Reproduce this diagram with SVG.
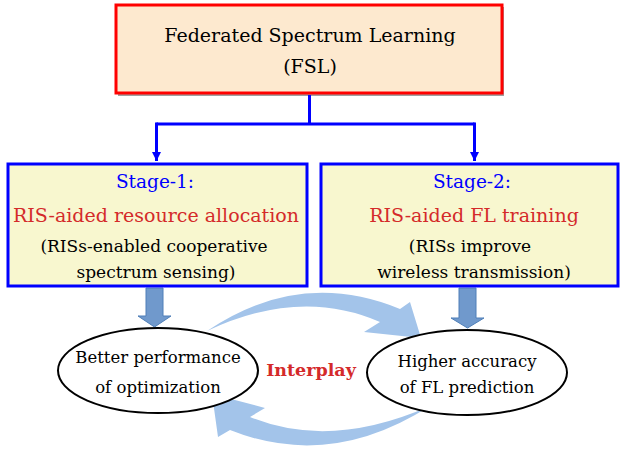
<svg xmlns="http://www.w3.org/2000/svg" width="623" height="449" viewBox="0 0 623 449">
<defs>
<style>
text{font-family:"DejaVu Serif","Liberation Serif",serif;text-anchor:middle}
.t1{font-size:19px;fill:#000}
.st{font-size:18.5px;fill:#0000ff}
.rd{font-size:19px;fill:#d42a2a}
.sm{font-size:17px;fill:#000}
.ov{font-size:16.5px;fill:#000}
.ip{font-size:17.5px;font-weight:bold;fill:#d42a2a}
.conn{stroke:#0000ff;stroke-width:3;fill:none}
.stage{fill:#f8f7cf;stroke:#0000ff;stroke-width:3}
.down{fill:#7099cc;stroke:#4f7fb8;stroke-width:1}
.oval{fill:#fff;stroke:#000;stroke-width:2}
.curve{fill:#a3c4ea}
</style>
<marker id="ah" viewBox="0 0 10 10" refX="10" refY="5" markerWidth="3" markerHeight="4" orient="auto" markerUnits="strokeWidth">
<path d="M0,0 L10,5 L0,10 Z" fill="#0000ff"/>
</marker>
</defs>
<rect width="623" height="449" fill="#fff"/>
<g id="fsl">
<rect x="118" y="7" width="386" height="89" fill="#a0a0a0"/>
<rect x="116" y="5" width="386" height="88" fill="#fde9cf" stroke="#ff0000" stroke-width="3"/>
<text class="t1" x="310" y="42">Federated Spectrum Learning</text>
<text class="t1" x="310" y="73">(FSL)</text>
</g>
<g id="connectors">
<path class="conn" d="M309.5,95 V124 M156.5,124 H474.5"/>
<path class="conn" d="M156.5,122.5 V161" marker-end="url(#ah)"/>
<path class="conn" d="M474.5,122.5 V161" marker-end="url(#ah)"/>
<path class="down" d="M146,288 H163 V316 H171 L154.5,327 L138,316 H146 Z"/>
<path class="down" d="M459,288 H476 V318 H484 L467.5,328 L451,318 H459 Z"/>
<path class="curve" d="M207,331 Q300,268 400,309 L410,302 L421,338 L364,332 L380,322 Q300,287 207,331 Z"/>
<path class="curve" d="M430,406 Q330,470 230,430 L218,437 L212,394 L265,408 L250,417 Q330,450 430,406 Z"/>
</g>
<g id="stage1">
<rect class="stage" x="8" y="164" width="299" height="122"/>
<text class="st" x="155" y="188">Stage-1:</text>
<text class="rd" x="156" y="222">RIS-aided resource allocation</text>
<text class="sm" x="154" y="252">(RISs-enabled cooperative</text>
<text class="sm" x="156" y="278">spectrum sensing)</text>
</g>
<g id="stage2">
<rect class="stage" x="321" y="164" width="297" height="122"/>
<text class="st" x="472" y="188">Stage-2:</text>
<text class="rd" x="474" y="222">RIS-aided FL training</text>
<text class="sm" x="470" y="252">(RISs improve</text>
<text class="sm" x="474" y="278">wireless transmission)</text>
</g>
<g id="better">
<ellipse class="oval" cx="158" cy="370.5" rx="100" ry="42.5"/>
<text class="ov" x="158" y="363">Better performance</text>
<text class="ov" x="158" y="393">of optimization</text>
</g>
<g id="higher">
<ellipse class="oval" cx="467" cy="372.5" rx="100" ry="42.5"/>
<text class="ov" x="467" y="367">Higher accuracy</text>
<text class="ov" x="467" y="393">of FL prediction</text>
</g>
<g id="interplay">
<text class="ip" x="311" y="376">Interplay</text>
</g>
</svg>
